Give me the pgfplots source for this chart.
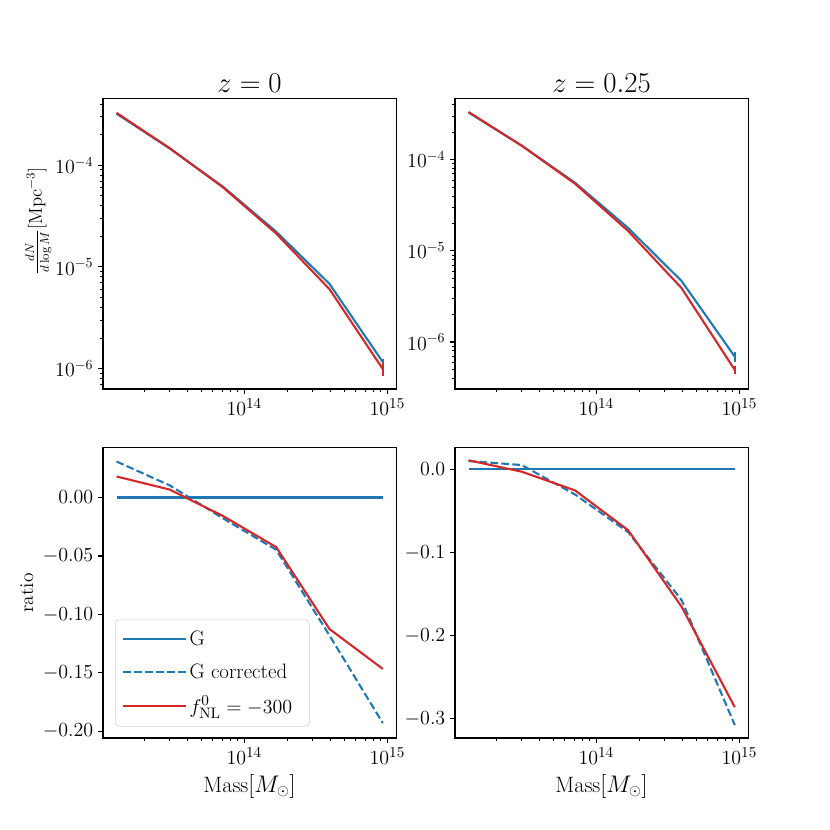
\documentclass[border=0pt]{standalone}
\usepackage{pgfplots}
\usepackage{pgfplotstable}
\pgfplotsset{compat=1.18}
\definecolor{tabblue}{HTML}{1F77B4}
\definecolor{tabred}{HTML}{D62728}

\pgfplotstableread{
x       G        F
1.28e13 3.21e-4  3.27e-4
3.01e13 1.46e-4  1.47e-4
7.10e13 6.15e-5  6.05e-5
1.67e14 2.22e-5  2.13e-5
3.94e14 6.81e-6  6.04e-6
9.29e14 1.16e-6  0.99e-6
}\topleft
\pgfplotstableread{
x       G        F
1.28e13 3.30e-4  3.34e-4
3.01e13 1.43e-4  1.426e-4
7.10e13 5.60e-5  5.46e-5
1.67e14 1.78e-5  1.65e-5
3.94e14 4.68e-6  3.91e-6
9.29e14 6.90e-7  4.93e-7
}\topright
\pgfplotstableread{
x       G    Gc       F
1.28e13 0    0.0308   0.0180
3.01e13 0    0.0104   0.0068
7.10e13 0   -0.0178  -0.0158
1.67e14 0   -0.0447  -0.0424
3.94e14 0   -0.118   -0.1125
9.29e14 0   -0.193   -0.1466
}\botleft
\pgfplotstableread{
x       G    Gc       F
1.28e13 0    0.0100   0.0109
3.01e13 0    0.0052  -0.0028
7.10e13 0   -0.0302  -0.0253
1.67e14 0   -0.0755  -0.0732
3.94e14 0   -0.157   -0.165
9.29e14 0   -0.3075  -0.286
}\botright

\pgfplotsset{
  every axis/.append style={
    scale only axis, width=211pt, height=209pt,
    xmode=log, xmin=1.03e13, xmax=1.15e15,
    xtick={1e14,1e15},
    minor xtick={2e13,3e13,4e13,5e13,6e13,7e13,8e13,9e13,2e14,3e14,4e14,5e14,6e14,7e14,8e14,9e14},
    tick align=outside, tick pos=left,
    major tick length=3.5pt, minor tick length=2pt,
    major tick style={black, line width=0.8pt},
    minor tick style={black, line width=0.6pt},
    axis line style={line width=0.8pt},
    yticklabel style={font=\fontsize{14.6}{17}\selectfont},
    xticklabel style={font=\fontsize{15.2}{18}\selectfont},
    xlabel style={font=\fontsize{16}{19}\selectfont},
    ylabel style={font=\fontsize{14}{17}\selectfont},
    title style={font=\fontsize{20}{24}\selectfont, yshift=-4.8pt},
  },
  every axis y label/.style={at={(ticklabel cs:0.5)}, rotate=90, anchor=near ticklabel},
  every axis plot/.append style={line width=1.5pt},
}

\begin{document}
\begin{tikzpicture}
\path[use as bounding box] (0,0) rectangle (597.6pt,597.6pt);

% top left
\begin{axis}[anchor=south west, at={(74.16pt,317.52pt)},
  ymode=log, ymin=6.31e-7, ymax=4.5e-4,
  ytick={1e-6,1e-5,1e-4},
  minor ytick={7e-7,8e-7,9e-7,2e-6,3e-6,4e-6,5e-6,6e-6,7e-6,8e-6,9e-6,2e-5,3e-5,4e-5,5e-5,6e-5,7e-5,8e-5,9e-5,2e-4,3e-4,4e-4},
  title={$z=0$},
  ylabel={$\frac{dN}{d\log M}$[Mpc$^{-3}$]},
  ylabel style={at={(ticklabel cs:0.58)}, font=\fontsize{13.4}{16}\selectfont, yshift=-4pt},
]
\addplot[tabblue] table[x=x,y=G]{\topleft};
\addplot[tabblue] coordinates {(9.29e14,1.06e-6) (9.29e14,1.25e-6)};
\addplot[tabred] table[x=x,y=F]{\topleft};
\addplot[tabred] coordinates {(9.29e14,0.85e-6) (9.29e14,1.13e-6)};
\end{axis}

% top right
\begin{axis}[anchor=south west, at={(327.6pt,317.52pt)},
  ymode=log, ymin=3.05e-7, ymax=4.67e-4,
  ytick={1e-6,1e-5,1e-4},
  minor ytick={4e-7,5e-7,6e-7,7e-7,8e-7,9e-7,2e-6,3e-6,4e-6,5e-6,6e-6,7e-6,8e-6,9e-6,2e-5,3e-5,4e-5,5e-5,6e-5,7e-5,8e-5,9e-5,2e-4,3e-4,4e-4},
  title={$z=0.25$},
]
\addplot[tabblue] table[x=x,y=G]{\topright};
\addplot[tabblue] coordinates {(9.29e14,6.1e-7) (9.29e14,7.7e-7)};
\addplot[tabred] table[x=x,y=F]{\topright};
\addplot[tabred] coordinates {(9.29e14,4.4e-7) (9.29e14,5.5e-7)};
\end{axis}

% bottom left
\begin{axis}[anchor=south west, at={(74.16pt,66.24pt)},
  ymin=-0.2057, ymax=0.0426,
  ytick={-0.2,-0.15,-0.1,-0.05,0},
  yticklabel style={/pgf/number format/fixed, /pgf/number format/fixed zerofill, /pgf/number format/precision=2},
  xlabel={Mass$[M_\odot]$},
  ylabel={ratio},
  legend style={at={(0.041,0.039)}, anchor=south west,
    draw=black!18, rounded corners=3pt, fill=white, fill opacity=0.8, text opacity=1,
    font=\fontsize{15}{18}\selectfont, inner xsep=5pt, inner ysep=6pt,
    row sep=7.5pt},
  legend cell align=left,
  legend image code/.code={\draw[#1] (0pt,0pt) -- (34pt,0pt); \path (0pt,0pt) -- (45pt,0pt);},
]
\addplot[tabblue] table[x=x,y=G]{\botleft};
\addlegendentry{G}
\addplot[tabblue, dash pattern=on 5.5pt off 2.4pt] table[x=x,y=Gc]{\botleft};
\addlegendentry{G corrected\rule{9pt}{0pt}}
\addplot[tabred] table[x=x,y=F]{\botleft};
\addlegendentry{$f_{\mathrm{NL}}^{0}=-300$}
\end{axis}

% bottom right
\begin{axis}[anchor=south west, at={(327.6pt,66.24pt)},
  ymin=-0.323, ymax=0.026,
  ytick={-0.3,-0.2,-0.1,0},
  yticklabel style={/pgf/number format/fixed, /pgf/number format/fixed zerofill, /pgf/number format/precision=1},
  xlabel={Mass$[M_\odot]$},
]
\addplot[tabblue] table[x=x,y=G]{\botright};
\addplot[tabblue, dash pattern=on 5.5pt off 2.4pt] table[x=x,y=Gc]{\botright};
\addplot[tabred] table[x=x,y=F]{\botright};
\end{axis}
\end{tikzpicture}
\end{document}
